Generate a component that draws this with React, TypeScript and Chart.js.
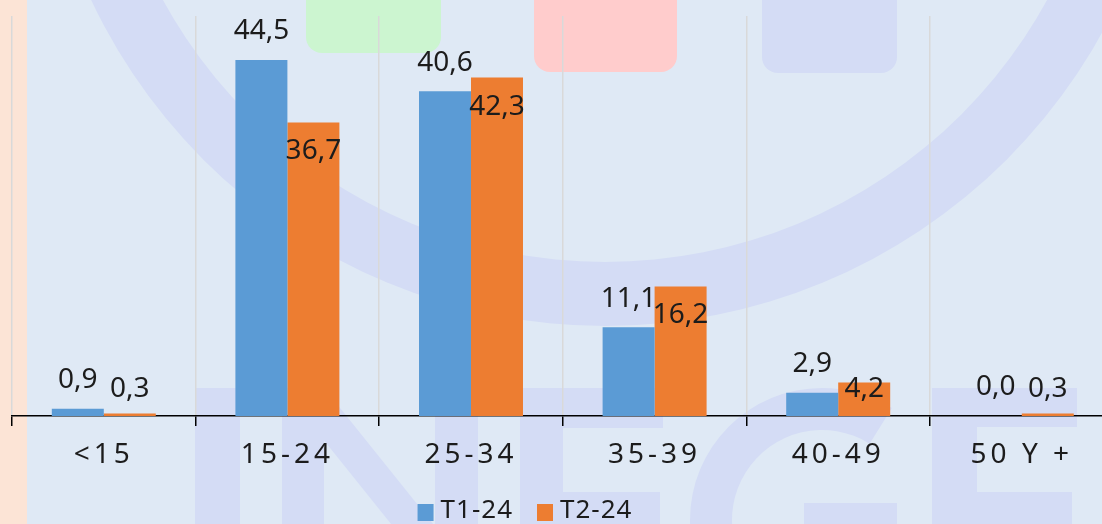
import React, { useEffect, useRef } from "react";
import { Chart, registerables } from "chart.js";

Chart.register(...registerables);

// ---------------- data ----------------
const categories = ["<15", "15-24", "25-34", "35-39", "40-49", "50 Y +"];
const seriesNames = ["T1-24", "T2-24"];
const seriesT1 = [0.9, 44.5, 40.6, 11.1, 2.9, 0.0];
const seriesT2 = [0.3, 36.7, 42.3, 16.2, 4.2, 0.3];
const yMin = 0;
const yMax = 50;

// ---------------- style ----------------
const CANVAS_W = 1120;
const CANVAS_H = 524;
const FONT = "'Noto Sans', 'Open Sans', sans-serif";
const BLUE = "#5b9bd5";
const ORANGE = "#ed7d31";
const TEXT = "#1c1c1c";
const BG = "#dfe9f5";
const PEACH = "#fce4d6";
const LAV = "#d4dcf5";
const GREEN_TILE = "#ccf5d0";
const RED_TILE = "#ffcccc";
const LEGEND_CENTER_X = 525;
const LEGEND_Y = 511;

// background watermark (decoration only)
const backgroundPlugin = {
  id: "watermark",
  beforeDraw(chart: any) {
    const ctx: CanvasRenderingContext2D = chart.ctx;
    const w = chart.width;
    const h = chart.height;
    ctx.save();
    ctx.fillStyle = BG;
    ctx.fillRect(0, 0, w, h);
    ctx.fillStyle = PEACH;
    ctx.fillRect(0, 0, 27, h);

    // top tiles
    const tile = (x: number, bottom: number, tw: number, color: string) => {
      ctx.fillStyle = color;
      ctx.beginPath();
      (ctx as any).roundRect(x, -30, tw, bottom + 30, 16);
      ctx.fill();
    };
    tile(306, 53, 135, GREEN_TILE);
    tile(534, 72, 143, RED_TILE);
    tile(762, 73, 135, LAV);

    ctx.fillStyle = LAV;
    // big ring
    ctx.beginPath();
    ctx.arc(605, -242, 568, 0, Math.PI * 2, false);
    ctx.arc(605, -242, 504, 0, Math.PI * 2, true);
    ctx.fill();

    // letters
    // I
    ctx.fillRect(195, 388, 45, h);
    // N
    ctx.fillRect(282, 388, 42, h);
    ctx.fillRect(435, 388, 43, h);
    ctx.beginPath();
    ctx.moveTo(282, 388);
    ctx.lineTo(324, 388);
    ctx.lineTo(478, 580);
    ctx.lineTo(436, 580);
    ctx.closePath();
    ctx.fill();
    // E
    ctx.fillRect(520, 388, 43, h);
    ctx.fillRect(520, 388, 143, 40);
    ctx.fillRect(563, 492, 97, h);
    // G
    ctx.beginPath();
    ctx.arc(822, 520, 132, Math.PI / 2, 5.27, false);
    ctx.arc(822, 520, 90, 5.27, Math.PI / 2, true);
    ctx.closePath();
    ctx.fill();
    ctx.fillRect(804, 503, 93, h);
    // E
    ctx.fillRect(932, 388, 45, h);
    ctx.fillRect(932, 388, 145, 39);
    ctx.fillRect(977, 492, 95, h);
    ctx.restore();

    // letter spacing for x tick labels
    const xs = chart.scales.x;
    if (xs && !xs.__spaced) {
      const orig = xs.drawLabels.bind(xs);
      xs.drawLabels = (area: any) => {
        const c: any = chart.ctx;
        const prev = c.letterSpacing;
        c.letterSpacing = "4px";
        orig(area);
        c.letterSpacing = prev || "0px";
      };
      xs.__spaced = true;
    }
  },
};

const fmt = (v: number) => v.toFixed(1).replace(".", ",");

const valueLabelPlugin = {
  id: "valueLabels",
  afterDatasetsDraw(chart: any) {
    const ctx: CanvasRenderingContext2D = chart.ctx;
    const base = chart.scales.y.getPixelForValue(0);
    ctx.save();
    ctx.font = `28px ${FONT}`;
    ctx.fillStyle = TEXT;
    ctx.textAlign = "center";
    ctx.textBaseline = "middle";
    chart.data.datasets.forEach((ds: any, di: number) => {
      const meta = chart.getDatasetMeta(di);
      meta.data.forEach((bar: any, i: number) => {
        const v = ds.data[i] as number;
        const y = di === 0 ? bar.y - 28.5 : Math.min(bar.y + 29, base - 26.5);
        ctx.fillText(fmt(v), bar.x, y);
      });
    });
    ctx.restore();
  },
};

const legendPlugin = {
  id: "customLegend",
  afterDraw(chart: any) {
    const ctx: any = chart.ctx;
    ctx.save();
    ctx.font = `26px ${FONT}`;
    ctx.letterSpacing = "1px";
    ctx.textBaseline = "middle";
    ctx.textAlign = "left";
    const box = 16;
    const gapText = 7;
    const gapItem = 24;
    const items = chart.data.datasets.map((ds: any) => ({
      label: ds.label as string,
      color: ds.backgroundColor as string,
      w: ctx.measureText(ds.label).width,
    }));
    const total =
      items.reduce((s: number, it: any) => s + box + gapText + it.w, 0) +
      gapItem * (items.length - 1);
    let x = LEGEND_CENTER_X - total / 2;
    items.forEach((it: any) => {
      ctx.fillStyle = it.color;
      ctx.fillRect(x, LEGEND_Y - 7, box, 17);
      ctx.fillStyle = TEXT;
      ctx.fillText(it.label, x + box + gapText, LEGEND_Y);
      x += box + gapText + it.w + gapItem;
    });
    ctx.restore();
  },
};

export default function App() {
  const canvasRef = useRef<HTMLCanvasElement | null>(null);

  useEffect(() => {
    if (!canvasRef.current) return;
    const chart = new Chart(canvasRef.current, {
      type: "bar",
      data: {
        labels: categories,
        datasets: [
          {
            label: seriesNames[0],
            data: seriesT1,
            backgroundColor: BLUE,
            borderWidth: 0,
            categoryPercentage: 0.5664,
            barPercentage: 1,
          },
          {
            label: seriesNames[1],
            data: seriesT2,
            backgroundColor: ORANGE,
            borderWidth: 0,
            categoryPercentage: 0.5664,
            barPercentage: 1,
          },
        ],
      },
      options: {
        responsive: false,
        animation: false,
        events: [],
        layout: {
          padding: { left: 12, right: CANVAS_W - 1113.6, top: 16, bottom: 40.4 },
        },
        plugins: {
          legend: { display: false },
          tooltip: { enabled: false },
          title: { display: false },
        },
        scales: {
          x: {
            grid: {
              offset: true,
              color: "#d9d9d9",
              lineWidth: 1.5,
              tickColor: "#000000",
              tickWidth: 1.5,
              tickLength: 10,
              drawTicks: true,
            },
            border: { color: "#000000", width: 1.5 },
            ticks: {
              color: TEXT,
              font: { family: FONT, size: 28 },
              padding: 12,
              maxRotation: 0,
              autoSkip: false,
            },
          },
          y: {
            display: false,
            min: yMin,
            max: yMax,
          },
        },
      },
      plugins: [backgroundPlugin, valueLabelPlugin, legendPlugin],
    });
    return () => chart.destroy();
  }, []);

  return (
    <div
      style={{
        position: "fixed",
        left: 0,
        top: 0,
        width: 1102,
        height: 524,
        overflow: "hidden",
      }}
    >
      <canvas ref={canvasRef} width={CANVAS_W} height={CANVAS_H} />
    </div>
  );
}
